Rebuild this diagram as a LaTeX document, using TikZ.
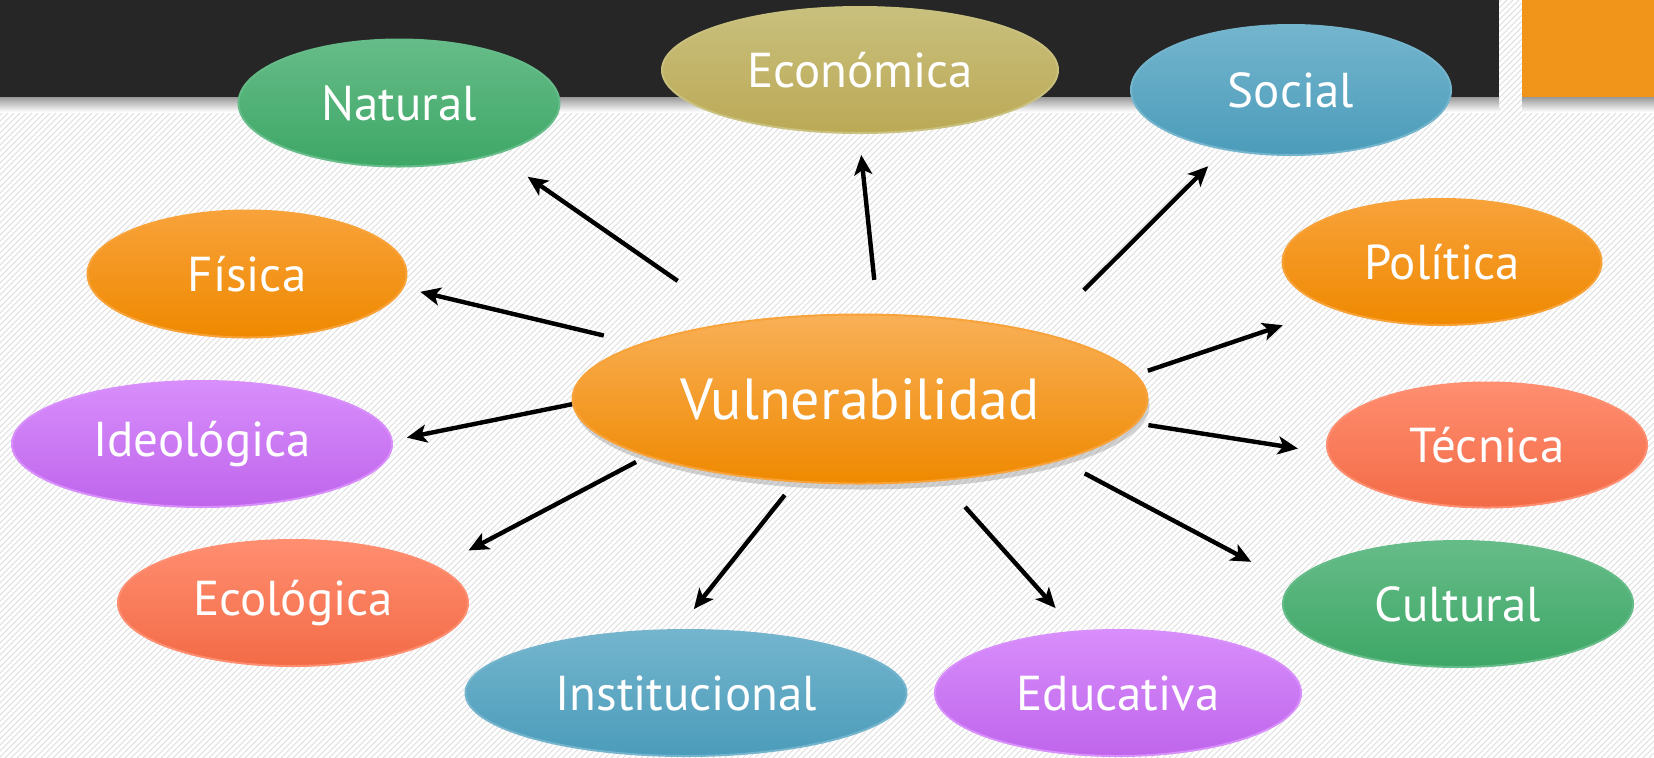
\documentclass[tikz,border=0pt]{standalone}
\usepackage{fontspec}
\setmainfont{PT Sans}
\usetikzlibrary{shapes.geometric,arrows.meta,shadows,patterns}
\definecolor{barra}{HTML}{262626}
\definecolor{cuadro}{HTML}{F0941A}
\definecolor{verdeA}{HTML}{66BC88}\definecolor{verdeB}{HTML}{3DA766}
\definecolor{olivaA}{HTML}{C9C07E}\definecolor{olivaB}{HTML}{BBA955}
\definecolor{azulA}{HTML}{74B5CD}\definecolor{azulB}{HTML}{4B9CBA}
\definecolor{naranjaA}{HTML}{F8A23A}\definecolor{naranjaB}{HTML}{EF8900}
\definecolor{moradoA}{HTML}{D88EFB}\definecolor{moradoB}{HTML}{BF65EC}
\definecolor{coralA}{HTML}{FF8E70}\definecolor{coralB}{HTML}{F36B47}
\tikzset{
  burbuja/.style={ellipse,inner sep=0pt,outer sep=0pt,text=white,line width=1pt,
    font=\fontsize{24.5}{29}\selectfont},
  verde/.style={burbuja,top color=verdeA,bottom color=verdeB,draw=verdeA},
  oliva/.style={burbuja,top color=olivaA,bottom color=olivaB,draw=olivaA},
  azul/.style={burbuja,top color=azulA,bottom color=azulB,draw=azulA},
  naranja/.style={burbuja,top color=naranjaA,bottom color=naranjaB,draw=naranjaA},
  morado/.style={burbuja,top color=moradoA,bottom color=moradoB,draw=moradoA},
  coral/.style={burbuja,top color=coralA,bottom color=coralB,draw=coralA},
  flecha/.style={-{Stealth[length=10pt,width=9pt,inset=2.5pt]},line width=2.2pt}
}
\begin{document}
\begin{tikzpicture}[x=0.5pt,y=-0.5pt]
\useasboundingbox (0,0) rectangle (1654,757);
% fondo
\fill[white] (0,0) rectangle (1654,757);
\fill[pattern=north east lines,pattern color=black!13] (0,0) rectangle (1654,757);
\shade[top color=black!40,bottom color=white] (0,97) rectangle (1499,112);
\shade[top color=black!40,bottom color=white] (1522,97) rectangle (1654,112);
\fill[barra] (0,0) rectangle (1499,97);
\fill[cuadro] (1522,0) rectangle (1654,97);

% centro
\node[naranja,top color=naranjaA!85!white,minimum width=287.5pt,minimum height=84.5pt,
  font=\fontsize{29}{34}\selectfont,
  drop shadow={shadow xshift=1pt,shadow yshift=-3pt,opacity=0.35}] (vul) at (860,399) {Vulnerabilidad};

% burbujas
\node[verde,minimum width=160.5pt,minimum height=63.5pt] (nat) at (399,103) {Natural};
\node[oliva,minimum width=198pt,minimum height=63pt] (eco) at (860,70) {Económica};
\node[azul,minimum width=160pt,minimum height=65pt] (soc) at (1291,90) {Social};
\node[naranja,minimum width=159.5pt,minimum height=63.5pt] (fis) at (247,274) {Física};
\node[naranja,minimum width=159.5pt,minimum height=63pt] (pol) at (1442,262) {Política};
\node[morado,minimum width=190pt,minimum height=63pt] (ideo) at (202,444) {Ideológica};
\node[coral,minimum width=160pt,minimum height=62.5pt] (tec) at (1487,445) {Técnica};
\node[coral,minimum width=175pt,minimum height=63pt] (ecol) at (293,603) {Ecológica};
\node[verde,minimum width=175pt,minimum height=63pt] (cul) at (1458,604) {Cultural};
\node[azul,minimum width=220.5pt,minimum height=63pt] (inst) at (686,693) {Institucional};
\node[morado,minimum width=183pt,minimum height=63pt] (edu) at (1118,693) {Educativa};

% flechas
\draw[flecha,shorten <=36.5pt,shorten >=20pt] (vul.148) -- (nat.-28);
\draw[flecha,shorten <=17.5pt,shorten >=11pt] (vul.78) -- (eco.-91);
\draw[flecha,shorten <=30.5pt,shorten >=12pt] (vul.20) -- (soc.-138);
\draw[flecha,shorten <=19pt,shorten >=9pt] (vul.166) -- (fis.-5);
\draw[flecha,shorten <=6.5pt,shorten >=26.7pt] (vul.5) -- (pol.-157);
\draw[flecha,shorten <=0.5pt,shorten >=7.7pt] (vul.181) -- (ideo.1);
\draw[flecha,shorten <=6.5pt,shorten >=15.4pt] (vul.-5) -- (tec.-177);
\draw[flecha,shorten <=6.5pt,shorten >=17.9pt] (vul.-165) -- (ecol.14);
\draw[flecha,shorten <=8.75pt,shorten >=13.4pt] (vul.-128) -- (inst.98);
\draw[flecha,shorten <=18pt,shorten >=15.8pt] (vul.-45) -- (edu.124);
\draw[flecha,shorten <=14.4pt,shorten >=23.3pt] (vul.-17) -- (cul.173);
\end{tikzpicture}
\end{document}
